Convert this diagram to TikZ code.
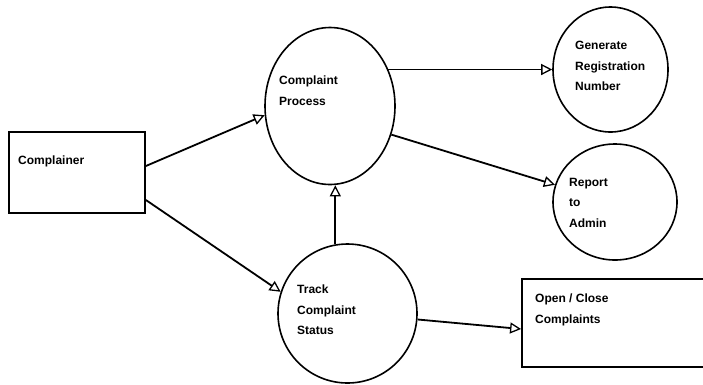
\documentclass[tikz,border=0pt]{standalone}
\usepackage{fontspec}
\setmainfont{Liberation Sans}
\usepackage{tikz}
\usetikzlibrary{positioning}
\usetikzlibrary{shapes.geometric,arrows.meta}

\begin{document}
\begin{tikzpicture}[x=1pt,y=-1pt,
    box/.style={draw,line width=1.8pt,rectangle,inner sep=0pt},
    proc/.style={draw,line width=1.6pt,ellipse,inner sep=0pt},
    txt/.style={anchor=north west,inner sep=0pt,align=left,
      font=\fontsize{12}{20.5}\selectfont\bfseries},
    flow/.style={line width=1.8pt,-{Triangle[open,length=11pt,width=11pt,line width=1.3pt]}}]
\useasboundingbox (0,0) rectangle (703,384);
\node [box,minimum width=136pt,minimum height=81pt] (comp) at (77,172.5) {};
\node [proc,minimum width=130pt,minimum height=157pt] (proc) at (330,106) {};
\node [proc,minimum width=115pt,minimum height=125pt] (gen) at (610.5,69.5) {};
\node [proc,minimum width=124pt,minimum height=116pt] (rep) at (615,202) {};
\node [proc,minimum width=139pt,minimum height=139pt] (track) at (347.5,313.5) {};
\node [box,minimum width=185pt,minimum height=88pt] (open) at (614.5,323) {};
\node [txt] (compT) at (18,156) {Complainer};
\node [txt] (procT) at (279,76) {Complaint\\Process};
\node [txt] (genT) at (575,41) {Generate\\Registration\\Number};
\node [txt] (repT) at (569,178) {Report\\to\\Admin};
\node [txt] (trackT) at (297,285) {Track\\Complaint\\Status};
\node [txt] (openT) at (535,294) {Open / Close\\Complaints};
\draw [flow] ([yshift=6.5pt]comp.east) -- (proc.188);
\draw [flow] ([yshift=-27.5pt]comp.east) -- (track.162);
\draw [flow] (proc.32) -- (proc.32 -| gen.west);
\draw [flow] (proc.335) -- (rep.164);
\draw [flow] (track.100) -- (track.100 |- proc.south);
\draw [flow] ([yshift=-6pt]track.east) -- ([yshift=-6pt]open.west);
\end{tikzpicture}
\end{document}
